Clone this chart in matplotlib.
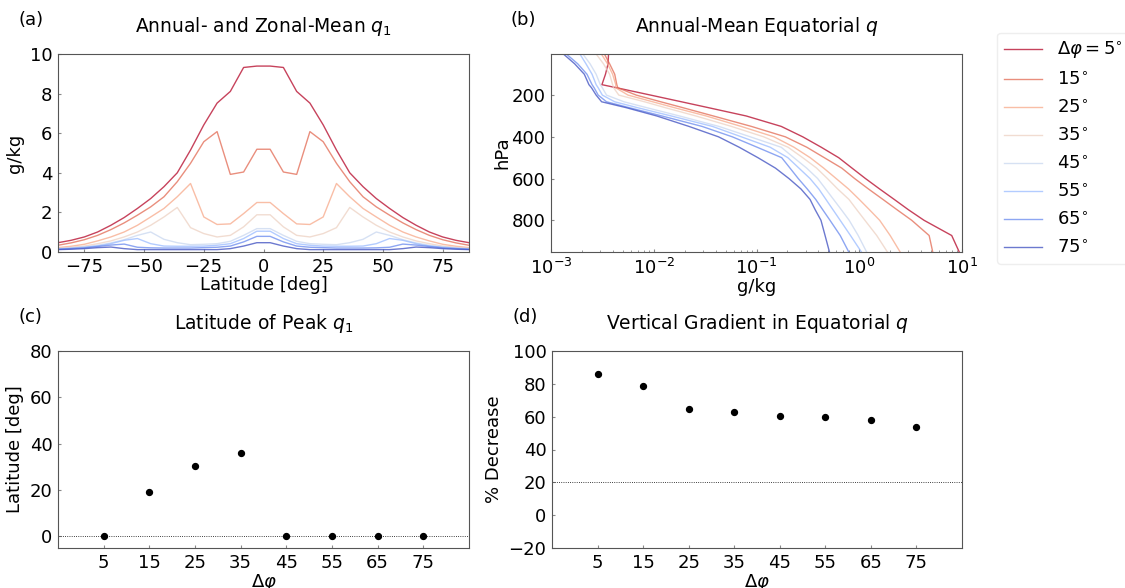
import matplotlib
matplotlib.use("Agg")
import matplotlib.pyplot as plt
import numpy as np

# Δφ experiments
dphi = [5, 15, 25, 35, 45, 55, 65, 75]
legend_labels = [r'$\Delta\varphi = 5^{\circ}$'] + [r'%d$^{\circ}$' % d for d in dphi[1:]]

# (a) zonal-mean q1, Gaussian latitudes (northern half, equator -> pole)
lat_n = [2.77, 8.30, 13.84, 19.37, 24.91, 30.45, 35.99, 41.53,
         47.07, 52.61, 58.15, 63.69, 69.23, 74.77, 80.31, 85.76]
q1_5 = [9.39, 9.32, 8.11, 7.52, 6.42, 5.15, 4.00, 3.30, 2.70, 2.20, 1.74, 1.35, 1.01, 0.76, 0.59, 0.47]
q1_15 = [5.19, 4.04, 3.92, 6.08, 5.57, 4.48, 3.55, 2.79, 2.28, 1.86, 1.47, 1.13, 0.84, 0.62, 0.46, 0.34]
q1_25 = [2.50, 1.94, 1.42, 1.39, 1.77, 3.46, 2.79, 2.20, 1.77, 1.35, 1.01, 0.76, 0.56, 0.39, 0.29, 0.22]
q1_35 = [1.88, 1.27, 0.84, 0.76, 0.93, 1.23, 2.25, 1.77, 1.35, 1.01, 0.76, 0.56, 0.42, 0.30, 0.24, 0.19]
q1_45 = [1.18, 0.84, 0.54, 0.42, 0.39, 0.37, 0.47, 0.64, 1.01, 0.84, 0.62, 0.46, 0.34, 0.25, 0.20, 0.17]
q1_55 = [1.05, 0.68, 0.42, 0.34, 0.30, 0.29, 0.29, 0.30, 0.42, 0.68, 0.59, 0.42, 0.30, 0.24, 0.19, 0.15]
q1_65 = [0.79, 0.51, 0.30, 0.24, 0.22, 0.20, 0.20, 0.20, 0.21, 0.24, 0.40, 0.35, 0.28, 0.21, 0.17, 0.14]
q1_75 = [0.47, 0.30, 0.17, 0.12, 0.12, 0.12, 0.12, 0.12, 0.12, 0.12, 0.17, 0.25, 0.22, 0.17, 0.14, 0.12]

# (b) equatorial q profiles [g/kg] on pressure levels [hPa]
plev = [3, 50, 100, 150, 165, 200, 232, 260, 300, 350, 400, 450, 500, 550, 600, 650, 700, 750, 800, 873, 952]
qeq_5 = [3.63e-3, 3.59e-3, 3.39e-3, 3.13e-3, 4.37e-3, 9.33e-3, 0.0186, 0.0339, 0.0794, 0.174, 0.282,
         0.427, 0.631, 0.851, 1.15, 1.58, 2.19, 3.02, 4.27, 7.94, 9.40]
qeq_15 = [3.31e-3, 3.72e-3, 4.17e-3, 4.37e-3, 4.47e-3, 6.76e-3, 0.0117, 0.0191, 0.0380, 0.0891, 0.191,
          0.309, 0.457, 0.676, 0.902, 1.23, 1.70, 2.34, 3.24, 4.79, 5.19]
qeq_25 = [3.09e-3, 3.55e-3, 3.98e-3, 4.27e-3, 4.27e-3, 5.62e-3, 9.77e-3, 0.0158, 0.0324, 0.0708, 0.148,
          0.232, 0.333, 0.451, 0.596, 0.787, 1.00, 1.26, 1.58, 2.00, 2.50]
qeq_35 = [2.75e-3, 3.24e-3, 3.72e-3, 3.98e-3, 4.07e-3, 4.57e-3, 8.13e-3, 0.0129, 0.0257, 0.0570, 0.1175,
          0.203, 0.282, 0.385, 0.490, 0.617, 0.794, 0.948, 1.135, 1.48, 1.88]
qeq_45 = [2.04e-3, 2.40e-3, 2.75e-3, 3.02e-3, 3.16e-3, 3.47e-3, 5.13e-3, 8.51e-3, 0.0178, 0.0430, 0.0871,
          0.174, 0.231, 0.308, 0.394, 0.471, 0.562, 0.671, 0.798, 0.977, 1.18]
qeq_55 = [1.91e-3, 2.19e-3, 2.51e-3, 2.75e-3, 2.88e-3, 3.16e-3, 4.17e-3, 6.92e-3, 0.0148, 0.0372, 0.0713,
          0.136, 0.202, 0.259, 0.332, 0.404, 0.474, 0.556, 0.652, 0.822, 1.05]
qeq_65 = [1.41e-3, 1.82e-3, 2.24e-3, 2.51e-3, 2.63e-3, 2.88e-3, 3.47e-3, 5.75e-3, 0.0120, 0.0295, 0.0582,
          0.1016, 0.176, 0.212, 0.255, 0.312, 0.377, 0.442, 0.519, 0.653, 0.791]
qeq_75 = [1.32e-3, 1.70e-3, 2.11e-3, 2.34e-3, 2.48e-3, 2.75e-3, 3.11e-3, 5.37e-3, 0.0107, 0.0220, 0.0427,
          0.0679, 0.1033, 0.153, 0.207, 0.271, 0.332, 0.373, 0.424, 0.465, 0.513]

# (c) latitude of peak q1, (d) % decrease
peak_lat = [0, 19.37, 30.45, 35.99, 0, 0, 0, 0]
pct_decrease = [86.1, 78.5, 64.5, 62.7, 60.6, 59.6, 58.2, 53.7]

q1_all = [q1_5, q1_15, q1_25, q1_35, q1_45, q1_55, q1_65, q1_75]
qeq_all = [qeq_5, qeq_15, qeq_25, qeq_35, qeq_45, qeq_55, qeq_65, qeq_75]

plt.rcParams['font.size'] = 13
plt.rcParams['axes.edgecolor'] = '#555555'
plt.rcParams['mathtext.fontset'] = 'dejavusans'

W, H = 1125, 588
fig = plt.figure(figsize=(W / 100, H / 100), dpi=100)


def box(x0, y0, x1, y1):
    return [x0 / W, 1 - y1 / H, (x1 - x0) / W, (y1 - y0) / H]


ax_a = fig.add_axes(box(58, 54, 469, 252))
ax_b = fig.add_axes(box(551, 54, 962, 252))
ax_c = fig.add_axes(box(58, 351, 469, 548))
ax_d = fig.add_axes(box(552, 351, 962, 548))

colors = plt.cm.coolwarm(np.linspace(1, 0, len(dphi)))
title_size = 13.5

lat_n = np.array(lat_n)
lat = np.concatenate([-lat_n[::-1], lat_n])
for q, c in zip(q1_all, colors):
    q = np.array(q)
    ax_a.plot(lat, np.concatenate([q[::-1], q]), color=c, lw=1, alpha=0.75)
ax_a.set_xlim(lat.min(), lat.max())
ax_a.set_ylim(0, 10)
ax_a.set_xticks([-75, -50, -25, 0, 25, 50, 75])
ax_a.set_xlabel('Latitude [deg]', labelpad=0)
ax_a.set_ylabel('g/kg')
ax_a.set_title(r'Annual- and Zonal-Mean $q_1$', pad=16, fontsize=title_size)

for q, c, lab in zip(qeq_all, colors, legend_labels):
    ax_b.plot(q, plev, color=c, lw=1, alpha=0.75, label=lab)
ax_b.set_xscale('log')
ax_b.set_xlim(1e-3, 1e1)
ax_b.set_ylim(max(plev), min(plev))
ax_b.set_yticks([200, 400, 600, 800])
ax_b.set_xlabel('g/kg', labelpad=0)
ax_b.set_ylabel('hPa', labelpad=0)
ax_b.set_title(r'Annual-Mean Equatorial $q$', pad=16, fontsize=title_size)
ax_b.legend(loc='upper left', bbox_to_anchor=(1.085, 1.107), borderaxespad=0,
            handlelength=2.1, labelspacing=0.55, fontsize=13, framealpha=1,
            edgecolor='#eeeeee')

ax_c.scatter(dphi, peak_lat, color='k', s=18, zorder=3)
ax_c.axhline(0, color='k', ls=':', lw=0.6)
ax_c.set_xlim(-5, 85)
ax_c.set_ylim(-5, 80)
ax_c.set_xticks(dphi)
ax_c.set_yticks([0, 20, 40, 60, 80])
ax_c.set_xlabel(r'$\Delta\varphi$', labelpad=0)
ax_c.set_ylabel('Latitude [deg]')
ax_c.set_title(r'Latitude of Peak $q_1$', pad=16, fontsize=title_size)

ax_d.scatter(dphi, pct_decrease, color='k', s=18, zorder=3)
ax_d.axhline(20, color='k', ls=':', lw=0.6)
ax_d.set_xlim(-5, 85)
ax_d.set_ylim(-20, 100)
ax_d.set_xticks(dphi)
ax_d.set_yticks([-20, 0, 20, 40, 60, 80, 100])
ax_d.set_xlabel(r'$\Delta\varphi$', labelpad=0)
ax_d.set_ylabel('% Decrease')
ax_d.set_title('Vertical Gradient in Equatorial $q$', pad=16, fontsize=title_size)

for ax in [ax_a, ax_b, ax_c, ax_d]:
    ax.tick_params(direction='in', length=2, color='#888888', pad=4)
    ax.tick_params(which='minor', direction='in', length=1.5, color='#888888')

for ax, lab in zip([ax_a, ax_b, ax_c, ax_d], ['(a)', '(b)', '(c)', '(d)']):
    pos = ax.get_position()
    fig.text(pos.x0 - 40 / W, pos.y1 + 34 / H, lab, fontsize=13, va='center', ha='left')

fig.savefig('out.png', dpi=100)
